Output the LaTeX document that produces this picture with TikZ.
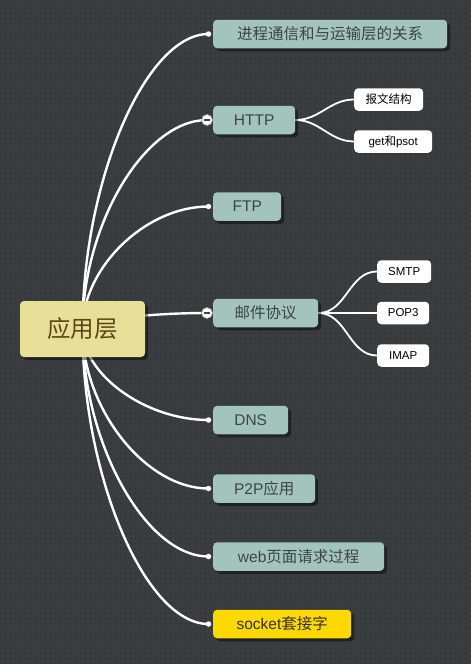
\documentclass[tikz,border=0pt]{standalone}
\usepackage{fontspec}
\setmainfont{Liberation Sans}
\newfontfamily\cjk{Noto Sans CJK SC}
\usetikzlibrary{calc,positioning,shadows,patterns}
\pgfdeclarelayer{bg}
\pgfdeclarelayer{edges}
\pgfsetlayers{bg,edges,main}

\pgfdeclarepatternformonly{griddots}{\pgfpointorigin}{\pgfpoint{4.5pt}{4.5pt}}{\pgfpoint{4.5pt}{4.5pt}}
    {\pgfpathrectangle{\pgfpointorigin}{\pgfpoint{1.3pt}{1.3pt}}\pgfusepath{fill}}

\definecolor{canvas}{RGB}{57,61,64}
\definecolor{canvasdot}{RGB}{44,47,50}
\definecolor{sage}{RGB}{163,196,189}
\definecolor{sagetext}{RGB}{60,68,72}
\definecolor{rootfill}{RGB}{232,223,152}
\definecolor{roottext}{RGB}{88,72,20}
\definecolor{gold}{RGB}{255,216,0}

\tikzset{
drop/.style={general shadow={fill=black, opacity=.45, shadow xshift=3pt, shadow yshift=-3pt}},
rootbox/.style={rounded corners=4pt, fill=rootfill, text=roottext, inner sep=0pt, drop,
    minimum width=125pt, minimum height=56pt, font=\cjk\fontsize{23.5}{26}\selectfont},
topic/.style={rounded corners=4pt, fill=sage, text=sagetext, inner sep=0pt, anchor=west, drop,
    minimum height=28.5pt, font=\fontsize{15.5}{18}\selectfont},
leaf/.style={rounded corners=4pt, fill=white, text=black, inner sep=0pt, anchor=west,
    minimum height=22.5pt, font=\fontsize{11.5}{13}\selectfont},
branch/.style={white, line width=2.4pt, to path={let \p1=(\tikztostart), \p2=(\tikztotarget) in
    .. controls (\x1,{0.5*(\y1+\y2)}) and ({0.5*(\x1+\x2)},\y2) .. (\tikztotarget)}},
twig/.style={white, line width=1.8pt, out=0, in=180},
enddot/.style={circle, fill=white, inner sep=0pt, minimum size=5.5pt},
fold/.style={circle, fill=white, draw=gray!80, line width=.7pt, inner sep=0pt, minimum size=11pt,
    path picture={\draw[sagetext, line width=1.1pt] ($(path picture bounding box.west)+(2.2pt,0)$) -- ($(path picture bounding box.east)+(-2.2pt,0)$);}}
}

\begin{document}
\begin{tikzpicture}[x=1pt,y=-1pt]

\useasboundingbox (0,0) rectangle (471,664);
\begin{pgfonlayer}{bg}
\fill[canvas] (0,0) rectangle (471,664);
\fill[pattern=griddots, pattern color=canvasdot] (0,0) rectangle (471,664);
\end{pgfonlayer}

% root
\node[rootbox] (root) at (82.5,329) {应用层};

% topics
\node[topic, minimum width=234pt] (t1) at (213,34) {\cjk 进程通信和与运输层的关系};
\node[topic, minimum width=82pt] (t2) at (213,120) {HTTP};
\node[topic, minimum width=68pt] (t3) at (213,206.5) {FTP};
\node[topic, minimum width=105pt] (t4) at (213,313) {\cjk 邮件协议};
\node[topic, minimum width=75pt] (t5) at (213,420) {DNS};
\node[topic, minimum width=102pt] (t6) at (213,488.5) {P2P{\cjk 应用}};
\node[topic, minimum width=171pt] (t7) at (213,556.5) {web{\cjk 页面请求过程}};
\node[topic, minimum width=138pt, fill=gold, text=black!80] (t8) at (213,624) {socket{\cjk 套接字}};

% leaves
\node[leaf, minimum width=69pt] (l1) at (354,99.5) {\cjk 报文结构};
\node[leaf, minimum width=78pt] (l2) at (354,141.5) {get{\cjk 和}psot};
\node[leaf, minimum width=54pt] (l3) at (377,271.5) {SMTP};
\node[leaf, minimum width=52pt] (l4) at (377,313) {POP3};
\node[leaf, minimum width=52pt] (l5) at (377,355.5) {IMAP};

% ends of the branches
\foreach \t in {1,3,5,6,7,8}
    \node[enddot] (d\t) at ($(t\t.west)+(-4.5,0)$) {};
\node[fold] (d2) at ($(t2.west)+(-6,0)$) {};
\node[fold] (d4) at ($(t4.west)+(-6,0)$) {};

\begin{pgfonlayer}{edges}
\foreach \t in {1,...,8}
    \draw[branch] (root.center) to (d\t.center);
\draw[twig] (t2.east) to (l1.west);
\draw[twig] (t2.east) to (l2.west);
\draw[twig] (t4.east) to (l3.west);
\draw[twig] (t4.east) to (l4.west);
\draw[twig] (t4.east) to (l5.west);
\end{pgfonlayer}

\end{tikzpicture}
\end{document}
